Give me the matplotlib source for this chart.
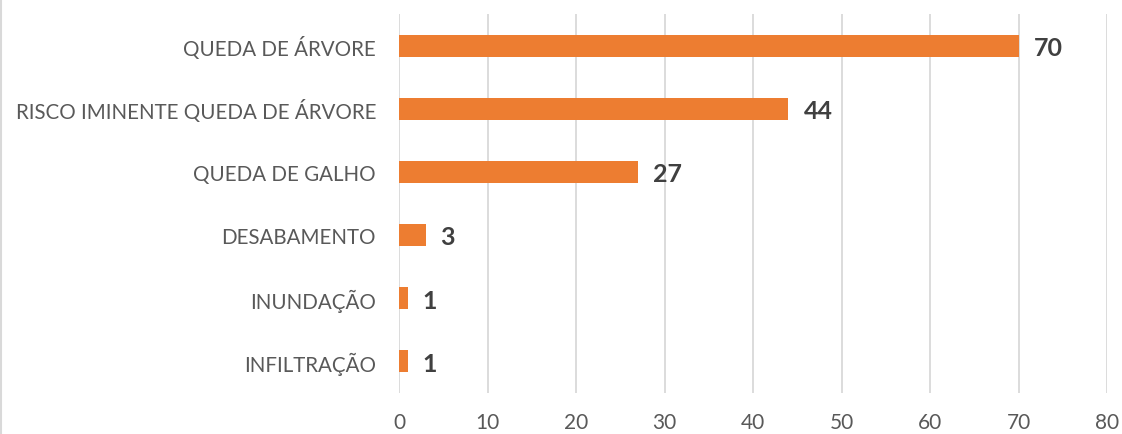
import matplotlib
matplotlib.use("Agg")
import matplotlib.pyplot as plt
from matplotlib.lines import Line2D

categorias = ["QUEDA DE ÁRVORE", "RISCO IMINENTE QUEDA DE ÁRVORE", "QUEDA DE GALHO",
              "DESABAMENTO", "INUNDAÇÃO", "INFILTRAÇÃO"]
ocorrencias = [70, 44, 27, 3, 1, 1]
xticks = [0, 10, 20, 30, 40, 50, 60, 70, 80]

plt.rcParams["font.family"] = ["Lato", "DejaVu Sans"]

fig = plt.figure(figsize=(11.22, 4.35), dpi=100)
ax = fig.add_axes([399 / 1122, 41 / 435, 708 / 1122, 379 / 435])

pos = list(range(len(categorias)))
ax.barh(pos, ocorrencias, height=0.35, color="#ED7D31", zorder=3)
for p, v in zip(pos, ocorrencias):
    ax.text(v + 1.7, p + 0.03, str(v), va="center", ha="left", fontsize=18,
            fontweight="bold", color="#404040")

ax.set_ylim(len(categorias) - 0.5, -0.5)
ax.set_xlim(0, 80)
ax.set_yticks(pos)
ax.set_yticklabels(categorias, fontsize=14.8, color="#595959")
ax.set_xticks(xticks)
ax.set_xticklabels([str(t) for t in xticks], fontsize=15, color="#595959")
ax.tick_params(length=0)
ax.tick_params(axis="y", pad=16.5)
ax.tick_params(axis="x", pad=14)
ax.grid(axis="x", color="#D9D9D9", lw=1.3, zorder=0)
for s in ax.spines.values():
    s.set_visible(False)

# borda cinza à esquerda
fig.add_artist(Line2D([0.001, 0.001], [0, 1], transform=fig.transFigure,
                      color="#D9D9D9", lw=1.5))

fig.savefig("out.png", dpi=100)
